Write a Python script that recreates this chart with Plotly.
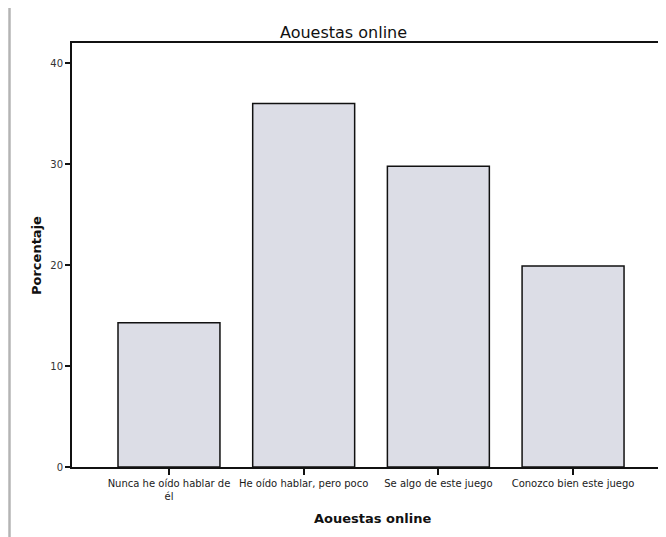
import plotly.graph_objects as go

categories = ["Nunca he oído hablar de<br>él", "He oído hablar, pero poco",
              "Se algo de este juego", "Conozco bien este juego"]
percentages = [14.3, 36.0, 29.8, 19.9]
y_ticks = [0, 10, 20, 30, 40]

# The page body has an 8px margin, so the figure is offset by 8px.
OFF = 8
W, H = 666 - OFF, 537 - OFF
L, R, T, B = 72 - OFF, 0, 43 - OFF, 537 - 467
pw, ph = W - L - R, H - T - B

def px_x(page_px):
    return (page_px - OFF - L) / pw

def px_y(page_py):
    return (H - B - (page_py - OFF)) / ph

fig = go.Figure()
fig.add_trace(go.Bar(
    x=list(range(len(categories))), y=percentages, width=0.757,
    marker=dict(color="#dcdde6", line=dict(color="#111111", width=1.5)),
    hoverinfo="skip",
))

font_family = "DejaVu Sans, Liberation Sans, Arial, sans-serif"
fig.update_layout(
    width=W, height=H,
    margin=dict(l=L, r=R, t=T, b=B),
    paper_bgcolor="white", plot_bgcolor="white",
    showlegend=False,
    font=dict(family=font_family, color="#222222"),
    xaxis=dict(
        range=[-0.72, 3.69], tickmode="array",
        tickvals=list(range(len(categories))), ticktext=categories,
        showline=True, linecolor="#111111", linewidth=2, mirror=True,
        ticks="outside", ticklen=6, tickwidth=1.5, tickcolor="#111111",
        tickfont=dict(size=10, color="#1a1a1a"), showgrid=False, zeroline=False,
        tickangle=0,
    ),
    yaxis=dict(
        range=[0, 42], tickmode="array", tickvals=y_ticks,
        ticktext=[str(v) for v in y_ticks],
        showline=True, linecolor="#111111", linewidth=2,
        ticks="outside", ticklen=5, tickwidth=1.5, tickcolor="#111111",
        tickfont=dict(size=10, color="#333333"), showgrid=False, zeroline=False,
    ),
    annotations=[
        dict(text="Aouestas online", xref="paper", yref="paper",
             x=px_x(343), y=px_y(32), xanchor="center", yanchor="middle",
             showarrow=False, font=dict(size=16, color="#111111", family=font_family)),
        dict(text="<b>Aouestas online</b>", xref="paper", yref="paper",
             x=px_x(372), y=px_y(518), xanchor="center", yanchor="middle",
             showarrow=False, font=dict(size=13, color="#111111", family=font_family)),
        dict(text="<b>Porcentaje</b>", xref="paper", yref="paper",
             x=px_x(36), y=px_y(256), xanchor="center", yanchor="middle",
             textangle=-90, showarrow=False,
             font=dict(size=13, color="#111111", family=font_family)),
    ],
    shapes=[
        dict(type="line", xref="paper", yref="paper",
             x0=px_x(9.5), x1=px_x(9.5), y0=px_y(537), y1=px_y(8),
             line=dict(color="#b4b4b4", width=2.5), layer="below"),
    ],
)

fig.write_html("out.html")
